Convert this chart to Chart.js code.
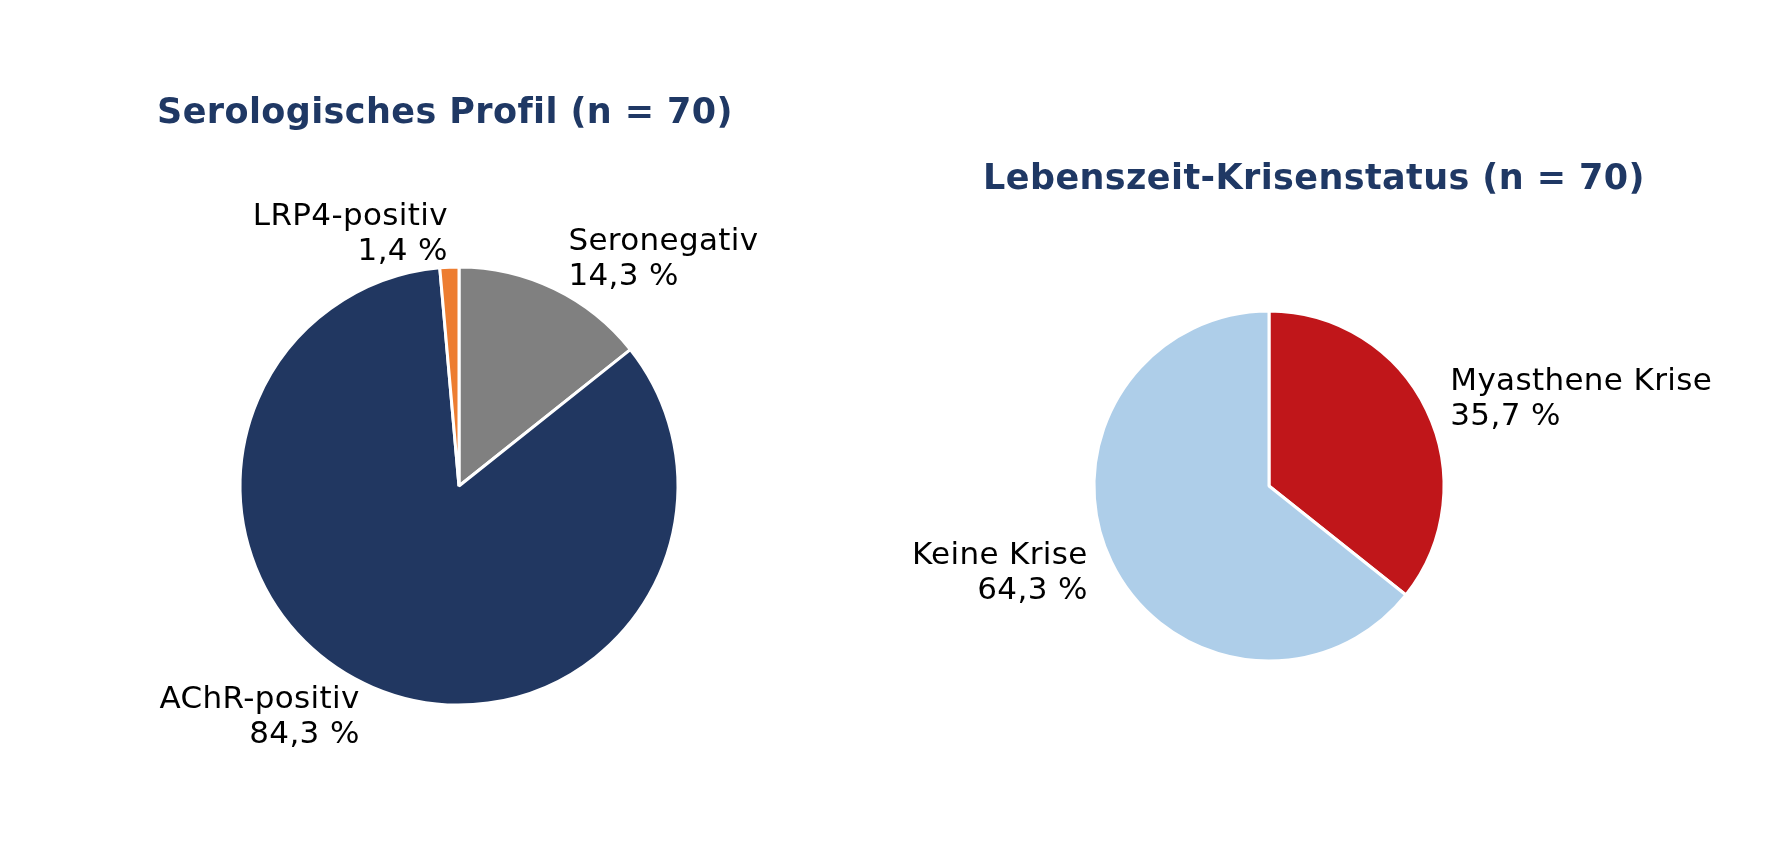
<!DOCTYPE html>
<html lang="de">
<head>
  <meta charset="utf-8">
  <title>Serologisches Profil und Lebenszeit-Krisenstatus</title>
  <script src="https://cdn.jsdelivr.net/npm/chart.js@4/dist/chart.umd.min.js"></script>
  <style>
  html, body { margin: 0; padding: 0; background: #fff; }
  .holder { position: absolute; top: 0; height: 843px; }
  #left { left: 0; width: 885px; }
  #right { left: 885px; width: 886px; }
  </style>
</head>
<body>
  <div class="holder" id="left"><canvas id="chartSero"></canvas></div>
  <div class="holder" id="right"><canvas id="chartKrise"></canvas></div>
  <script>
    // data (percent of n = 70)
    var seroLabels = ['Seronegativ', 'AChR-positiv', 'LRP4-positiv'];
    var seroValues = [14.3, 84.3, 1.4];
    var seroColors = ['#808080', '#213761', '#ed7d31'];

    var kriseLabels = ['Myasthene Krise', 'Keine Krise'];
    var kriseValues = [35.7, 64.3];
    var kriseColors = ['#c0161a', '#aecee9'];

    var fmtPct = function (v) {
      return v.toFixed(1).replace('.', ',') + ' %';
    };

    // draws the title and the outside labels like matplotlib does
    var pieText = {
      id: 'pieText',
      afterDatasetsDraw: function (chart, args, opts) {
        var ctx = chart.ctx;
        var meta = chart.getDatasetMeta(0);
        var values = chart.data.datasets[0].data;
        ctx.save();
        ctx.fillStyle = '#000';
        ctx.font = '31px "DejaVu Sans"';
        ctx.letterSpacing = '0.35px';
        ctx.textBaseline = 'alphabetic';
        meta.data.forEach(function (arc, i) {
          var p = arc.getProps(['x', 'y', 'startAngle', 'endAngle', 'outerRadius'], true);
          var mid = (p.startAngle + p.endAngle) / 2;
          var d = p.outerRadius * 1.15;
          var ax = p.x + Math.cos(mid) * d;
          var ay = p.y + Math.sin(mid) * d;
          ctx.textAlign = Math.cos(mid) >= 0 ? 'left' : 'right';
          ctx.fillText(chart.data.labels[i], ax, ay - 9);
          ctx.fillText(fmtPct(values[i]), ax, ay + 26);
        });
        ctx.fillStyle = '#1f3864';
        ctx.font = 'bold 35px "DejaVu Sans"';
        ctx.letterSpacing = '0.4px'; // also keeps "fi" from turning into a ligature
        ctx.textAlign = 'center';
        ctx.fillText(opts.text, opts.x, opts.y);
        ctx.restore();
      }
    };

    var makeConfig = function (labels, values, colors, radius, padding, title) {
      return {
        type: 'pie',
        data: {
          labels: labels,
          datasets: [{
            data: values,
            backgroundColor: colors,
            borderColor: '#ffffff',
            borderWidth: 3
          }]
        },
        options: {
          responsive: true,
          maintainAspectRatio: false,
          animation: false,
          radius: radius,
          layout: { padding: padding },
          plugins: {
            legend: { display: false },
            tooltip: { enabled: false },
            pieText: title
          }
        },
        plugins: [pieText]
      };
    };

    new Chart(document.getElementById('chartSero'), makeConfig(
      seroLabels, seroValues, seroColors, 219,
      { left: 33, right: 0, top: 129, bottom: 0 },
      { text: 'Serologisches Profil (n = 70)', x: 445, y: 123 }
    ));

    new Chart(document.getElementById('chartKrise'), makeConfig(
      kriseLabels, kriseValues, kriseColors, 175,
      { left: 0, right: 118, top: 129, bottom: 0 },
      { text: 'Lebenszeit-Krisenstatus (n = 70)', x: 429, y: 189 }
    ));
  </script>
</body>
</html>
